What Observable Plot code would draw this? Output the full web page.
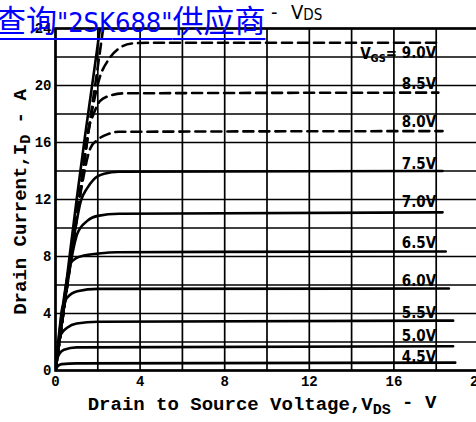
<!DOCTYPE html>
<html><head><meta charset="utf-8">
<script src="https://cdn.jsdelivr.net/npm/d3@7"></script>
<script src="https://cdn.jsdelivr.net/npm/@observablehq/plot@0.6"></script>
<style>
html,body{margin:0;padding:0;background:#fff;overflow:hidden;width:476px;height:422px;}
#wrap{position:relative;width:476px;height:422px;overflow:hidden;}
#chart{position:absolute;left:0;top:0;width:500px;height:422px;}
#chart svg{max-width:none !important;}
.tt{position:absolute;top:0px;font:20px 'DejaVu Sans Condensed','DejaVu Sans';color:#000;white-space:nowrap;}
.tt sub{font-size:15px;vertical-align:-1px;}
#link{position:absolute;left:-5px;top:-1px;color:#0000ff;font:31px 'Noto Sans CJK SC';text-decoration:underline;text-decoration-thickness:2px;text-underline-offset:6px;white-space:nowrap;z-index:2;line-height:40px;}
#link .lat{font:27px 'DejaVu Sans Condensed','DejaVu Sans';}
#ylab{position:absolute;left:22px;top:202px;transform:translate(-50%,-50%) rotate(-90deg);font:bold 19px 'Liberation Mono',monospace;color:#000;white-space:nowrap;}
#ylab sub{font-size:15px;vertical-align:-4px;}
</style></head>
<body>
<div id="wrap">
  <div id="chart"></div>
  <div id="ylab"></div>
  <div class="tt" style="left:271px">-</div>
  <div class="tt" style="left:291px">V<sub>DS</sub></div>
  <div id="link">查询<span class="lat">"2SK688"</span>供应商</div>
</div>
<script>
// tick labels and grid positions
const xTicks = [0, 4, 8, 12, 16, 20];
const yTicks = [0, 4, 8, 12, 16, 20, 24];
const xGrid = [0, 2, 4, 6, 8, 10, 12, 14, 16, 18, 20];
const yGrid = [0, 2, 4, 6, 8, 10, 12, 14, 16, 18, 20, 22, 24];

// curves: VDS (V) and ID (A)
const vds45 = [0, 0.1, 0.3, 1.0, 18.9];
const id45  = [0, 0.3, 0.45, 0.5, 0.55];
const vds50 = [0, 0.08, 0.2, 0.4, 1.0, 18.8];
const id50  = [0, 0.8, 1.2, 1.45, 1.62, 1.7];
const vds55 = [0, 0.12, 0.24, 0.55, 1.0, 2.0, 18.8];
const id55  = [0, 1.8, 2.5, 3.0, 3.3, 3.42, 3.5];
const vds60 = [0, 0.2, 0.32, 0.55, 1.03, 2.0, 18.6];
const id60  = [0, 3.0, 4.4, 5.1, 5.56, 5.73, 5.75];
const vds65 = [0, 0.3, 0.55, 0.7, 1.0, 1.34, 2.0, 2.9, 18.45];
const id65  = [0, 4.0, 6.5, 7.5, 7.9, 8.07, 8.2, 8.3, 8.35];
const vds70 = [0, 0.5, 0.8, 1.03, 1.5, 2.0, 3.0, 18.3];
const id70  = [0, 5.4, 8.2, 9.6, 10.5, 10.85, 11.0, 11.1];
const vds75 = [0, 0.5, 0.9, 1.2, 1.5, 1.8, 2.3, 3.0, 18.3];
const id75  = [0, 5.6, 9.6, 11.9, 12.8, 13.4, 13.8, 13.95, 14.0];
const vds80 = [0, 0.6, 1.2, 1.65, 2.0, 2.5, 3.0, 18.3];
const id80  = [0, 6.4, 12.6, 15.6, 16.2, 16.6, 16.75, 16.8];
const vds85 = [0, 0.6, 1.2, 1.5, 1.8, 2.1, 2.6, 3.2, 18.1];
const id85  = [0, 6.5, 12.8, 16.5, 18.0, 18.9, 19.3, 19.45, 19.5];
const vds90 = [0, 0.6, 1.2, 1.7, 2.1, 2.5, 3.0, 3.6, 4.5, 18.2];
const id90  = [0, 6.5, 13.0, 18.0, 20.6, 21.8, 22.6, 22.95, 23.0, 23.0];
const vdsHiA = [0, 0.5, 1.0, 1.4, 1.75, 2.15];
const idHiA  = [0, 6.0, 12.0, 16.5, 20.2, 24.5];
const vdsHiB = [0, 0.6, 1.2, 1.6, 1.95, 2.3];
const idHiB  = [0, 6.6, 12.8, 17.2, 20.8, 24.5];

// labels
const curveLabels = ["4.5V", "5.0V", "5.5V", "6.0V", "6.5V", "7.0V", "7.5V", "8.0V", "8.5V", "VGS= 9.0V"];
const labelVds = [18, 18, 18, 18, 18, 18, 18, 18, 18, 18];
const labelId  = [0.9, 2.4, 4.0, 6.3, 8.9, 11.8, 14.5, 17.4, 20.1, 22.2];

const xLabel = "Drain to Source Voltage,VDS - V";
const yLabelPre = "Drain Current,I", yLabelSub = "D", yLabelPost = " - A";

function rows(name, vs, is) { return vs.map((v, k) => ({name, vds: v, id: is[k]})); }
const solidRows = [
  ...rows("4.5", vds45, id45), ...rows("5.0", vds50, id50), ...rows("5.5", vds55, id55),
  ...rows("6.0", vds60, id60), ...rows("6.5", vds65, id65), ...rows("7.0", vds70, id70),
  ...rows("7.5", vds75, id75), ...rows("hiA", vdsHiA, idHiA)
];
const dashedRows = [
  ...rows("8.0", vds80, id80), ...rows("8.5", vds85, id85), ...rows("9.0", vds90, id90),
  ...rows("hiB", vdsHiB, idHiB)
];
const labelRows = curveLabels.map((t, k) => ({t, x: labelVds[k], y: labelId[k]}));

const chart = Plot.plot({
  width: 500, height: 422,
  marginLeft: 55, marginRight: 22, marginTop: 28, marginBottom: 52,
  x: {domain: [0, 20]},
  y: {domain: [0, 24]},
  style: {fontFamily: "'Liberation Mono', monospace", fontWeight: "bold", fontSize: "14px", color: "#000", background: "#fff", maxWidth: "none"},
  marks: [
    Plot.gridX(xGrid, {stroke: "#000", strokeOpacity: 1, strokeWidth: 1.7}),
    Plot.gridY(yGrid, {stroke: "#000", strokeOpacity: 1, strokeWidth: 1.7}),
    Plot.frame({stroke: "#000", strokeWidth: 2.6}),
    Plot.axisX(xTicks, {tickSize: 0, tickPadding: 6, fontSize: 14, label: null}),
    Plot.axisY(yTicks, {tickSize: 0, tickPadding: 4, fontSize: 14, label: null}),
    Plot.line(solidRows, {x: "vds", y: "id", z: "name", curve: "monotone-x", stroke: "#000", strokeWidth: 2.6, clip: true}),
    Plot.line(dashedRows, {x: "vds", y: "id", z: "name", curve: "monotone-x", stroke: "#000", strokeWidth: 2.6, strokeDasharray: "10,6", clip: true}),
    Plot.text(labelRows, {x: "x", y: "y", text: "t", textAnchor: "end", fontFamily: "'DejaVu Sans Condensed', 'DejaVu Sans'", fontWeight: "bold", fontSize: 15, fill: "#000"}),
    Plot.text([xLabel], {frameAnchor: "bottom", dx: -5, dy: 39, fontSize: 19, fontWeight: "bold", fill: "#000"})
  ]
});
chart.style.maxWidth = "none";
chart.style.width = "500px";
chart.style.height = "422px";
document.getElementById("chart").appendChild(chart);

const yl = document.getElementById("ylab");
yl.appendChild(document.createTextNode(yLabelPre));
const s = document.createElement("sub"); s.textContent = yLabelSub; yl.appendChild(s);
yl.appendChild(document.createTextNode(yLabelPost));

// subscripts
function subscript(full, pre, sub, post, subSize) {
  d3.select(chart).selectAll("text").each(function() {
    if (this.textContent === full) {
      const t = d3.select(this);
      t.text("");
      t.append("tspan").text(pre);
      t.append("tspan").attr("dy", "0.3em").attr("font-size", subSize).text(sub);
      t.append("tspan").attr("dy", "-0.3em").text(post);
    }
  });
}
subscript(xLabel, "Drain to Source Voltage,V", "DS", " - V", 15);
subscript("VGS= 9.0V", "V", "GS", "= 9.0V", 11);
</script>
</body></html>
